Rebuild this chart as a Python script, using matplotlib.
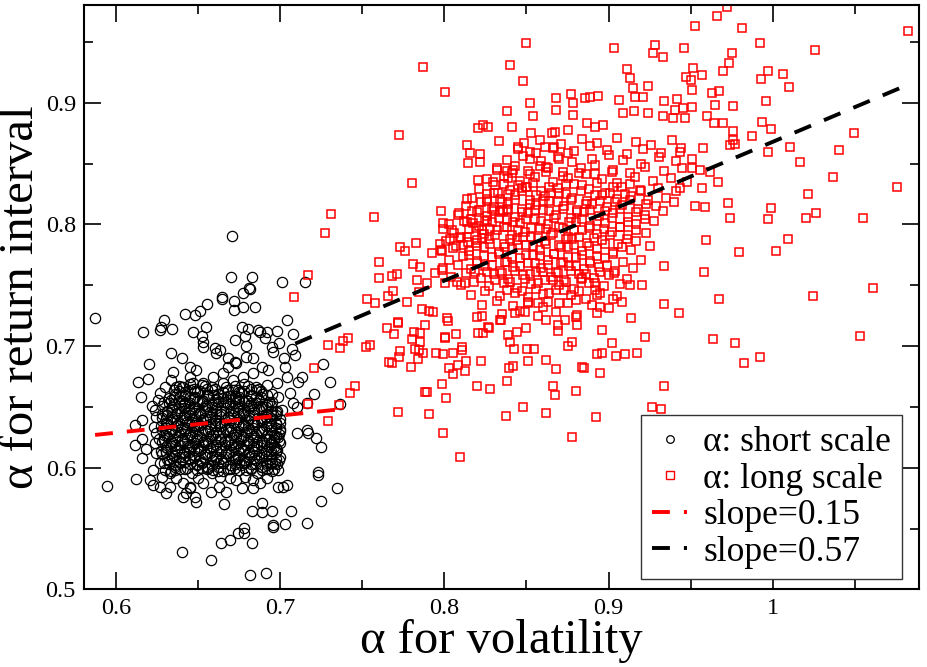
import matplotlib
matplotlib.use("Agg")
import matplotlib.pyplot as plt
from matplotlib.lines import Line2D
from matplotlib.ticker import MultipleLocator, FuncFormatter

plt.rcParams['font.family'] = ['Liberation Serif', 'DejaVu Serif']

# alpha short scale (black circles): scattered points
short_x = [0.6706, 0.5868, 0.6698, 0.6824, 0.7011, 0.7149, 0.6814, 0.6810, 0.6773, 0.6645,
           0.6641, 0.6714, 0.6718, 0.6555, 0.6773, 0.6844, 0.6509, 0.6478, 0.6421, 0.6291,
           0.6271, 0.6265, 0.6336, 0.6163, 0.6545, 0.6464, 0.6763, 0.6803, 0.6783, 0.6787,
           0.6722, 0.6864, 0.6915, 0.6980, 0.7037, 0.7078, 0.6519, 0.6529, 0.6529, 0.6332,
           0.6198, 0.6133, 0.6194, 0.6149, 0.6214, 0.6112, 0.6159, 0.6112, 0.6159, 0.6179,
           0.6153, 0.6118, 0.5940, 0.6204, 0.6220, 0.6265, 0.6275, 0.6224, 0.6301, 0.6326,
           0.6407, 0.6427, 0.6478, 0.6484, 0.6448, 0.6401, 0.6576, 0.6657, 0.6574, 0.6627,
           0.6671, 0.6763, 0.6834, 0.6637, 0.6692, 0.6742, 0.6779, 0.6779, 0.6824, 0.6814,
           0.6911, 0.6824, 0.6885, 0.6885, 0.6946, 0.6952, 0.6956, 0.7025, 0.7064, 0.7159,
           0.7247, 0.7342, 0.7230, 0.7230, 0.6986, 0.7017, 0.7037, 0.6986, 0.6966, 0.6996,
           0.7098, 0.7163, 0.7169, 0.7216, 0.7245, 0.7362, 0.7305, 0.7261, 0.7206, 0.7163,
           0.7129, 0.7108, 0.7088, 0.7068, 0.7021, 0.7027, 0.7037, 0.7057, 0.7078, 0.7098,
           0.6992, 0.6946, 0.6956, 0.6905, 0.6875, 0.6834, 0.6793, 0.6681, 0.6722, 0.6732,
           0.6681, 0.6610, 0.6600, 0.6631, 0.6448, 0.6448, 0.6488, 0.6397, 0.6346, 0.6330,
           0.6295, 0.6265, 0.6255, 0.6234, 0.6244, 0.6228, 0.6244, 0.6234, 0.6244, 0.6265,
           0.6295, 0.6326, 0.6366, 0.6407, 0.6448, 0.6499, 0.6529, 0.6580, 0.6631, 0.6692,
           0.6732, 0.6783, 0.6834, 0.6875, 0.6915, 0.6936, 0.6976, 0.6986, 0.6996, 0.7007,
           0.6986, 0.6976, 0.6925, 0.6885, 0.6834, 0.6773, 0.6712, 0.6651, 0.6590, 0.6529,
           0.6468, 0.6407, 0.6366]
short_y = [0.7905, 0.7234, 0.7571, 0.7571, 0.7529, 0.7529, 0.7466, 0.7475, 0.7439, 0.7406,
           0.7384, 0.7373, 0.7297, 0.7346, 0.7319, 0.7319, 0.7291, 0.7253, 0.7264, 0.7214,
           0.7160, 0.7132, 0.7138, 0.7119, 0.7154, 0.7119, 0.7160, 0.7143, 0.7083, 0.7001,
           0.7050, 0.7132, 0.7119, 0.7124, 0.7214, 0.7100, 0.7083, 0.7036, 0.6995, 0.6946,
           0.6850, 0.6708, 0.6727, 0.6579, 0.6511, 0.6352, 0.6393, 0.6187, 0.6234, 0.6152,
           0.6078, 0.5905, 0.5853, 0.5900, 0.5859, 0.5845, 0.5927, 0.5982, 0.5790, 0.5845,
           0.5763, 0.5790, 0.5763, 0.5722, 0.5831, 0.5305, 0.5242, 0.5703, 0.5798, 0.5845,
           0.5804, 0.5831, 0.5831, 0.5379, 0.5407, 0.5461, 0.5508, 0.5461, 0.5385, 0.5119,
           0.5133, 0.5648, 0.5640, 0.5714, 0.5645, 0.5530, 0.5516, 0.5536, 0.5645, 0.5549,
           0.5730, 0.5837, 0.5968, 0.5941, 0.5845, 0.5845, 0.5859, 0.5982, 0.6037, 0.6091,
           0.6283, 0.6311, 0.6283, 0.6242, 0.6174, 0.6524, 0.6702, 0.6850, 0.6604, 0.6530,
           0.6749, 0.6708, 0.6927, 0.6976, 0.6900, 0.6831, 0.6749, 0.6612, 0.6530, 0.6502,
           0.7023, 0.6995, 0.6954, 0.7064, 0.7119, 0.6900, 0.6913, 0.6900, 0.6872, 0.6858,
           0.6831, 0.6941, 0.6982, 0.6968, 0.6831, 0.6749, 0.6804, 0.6900, 0.6790, 0.6721,
           0.6667, 0.6612, 0.6557, 0.6475, 0.6420, 0.6338, 0.6283, 0.6201, 0.6119, 0.6037,
           0.5982, 0.5954, 0.5913, 0.5872, 0.5845, 0.5913, 0.5872, 0.5954, 0.5927, 0.5913,
           0.5900, 0.5927, 0.5900, 0.5872, 0.5913, 0.6037, 0.6146, 0.6256, 0.6365, 0.6475,
           0.6584, 0.6694, 0.6804, 0.6831, 0.6776, 0.6749, 0.6721, 0.6776, 0.6749, 0.6694,
           0.6694, 0.6667, 0.6667]

# alpha short scale: dense core of the cloud
short_core_x = [0.633, 0.639, 0.646, 0.652, 0.659, 0.665, 0.672, 0.679, 0.686, 0.692,
                0.629, 0.636, 0.642, 0.649, 0.655, 0.662, 0.669, 0.675, 0.682, 0.689, 0.695,
                0.631, 0.638, 0.644, 0.651, 0.658, 0.664, 0.671, 0.678, 0.684, 0.691, 0.697,
                0.627, 0.634, 0.641, 0.647, 0.654, 0.661, 0.667, 0.674, 0.681, 0.687, 0.694,
                0.630, 0.636, 0.643, 0.650, 0.656, 0.663, 0.670, 0.676, 0.683, 0.690, 0.696,
                0.626, 0.633, 0.640, 0.646, 0.653, 0.660, 0.666, 0.673, 0.680, 0.686, 0.693, 0.699,
                0.629, 0.636, 0.642, 0.649, 0.656, 0.662, 0.669, 0.676, 0.682, 0.689, 0.696,
                0.627, 0.634, 0.640, 0.647, 0.654, 0.660, 0.667, 0.674, 0.680, 0.687, 0.694, 0.700,
                0.630, 0.637, 0.643, 0.650, 0.657, 0.663, 0.670, 0.677, 0.683, 0.690, 0.697,
                0.628, 0.634, 0.641, 0.648, 0.654, 0.661, 0.668, 0.674, 0.681, 0.688, 0.694,
                0.631, 0.638, 0.644, 0.651, 0.658, 0.664, 0.671, 0.678, 0.684, 0.691, 0.698,
                0.629, 0.635, 0.642, 0.649, 0.655, 0.662, 0.669, 0.675, 0.682, 0.689, 0.695,
                0.632, 0.639, 0.645, 0.652, 0.659, 0.665, 0.672, 0.679, 0.685, 0.692,
                0.635, 0.642, 0.648, 0.655, 0.662, 0.668, 0.675, 0.682, 0.688, 0.695,
                0.638, 0.645, 0.652, 0.658, 0.665, 0.672, 0.678, 0.685, 0.692]
short_core_y = [0.597, 0.599, 0.596, 0.600, 0.598, 0.597, 0.600, 0.598, 0.596, 0.599,
                0.604, 0.602, 0.605, 0.603, 0.601, 0.604, 0.602, 0.605, 0.603, 0.601, 0.604,
                0.607, 0.609, 0.608, 0.606, 0.610, 0.607, 0.609, 0.606, 0.608, 0.610, 0.607,
                0.614, 0.612, 0.613, 0.615, 0.611, 0.614, 0.612, 0.615, 0.613, 0.611, 0.614,
                0.617, 0.619, 0.618, 0.616, 0.620, 0.617, 0.619, 0.616, 0.618, 0.620, 0.617,
                0.624, 0.622, 0.623, 0.625, 0.621, 0.624, 0.622, 0.625, 0.623, 0.621, 0.624, 0.622,
                0.627, 0.629, 0.628, 0.626, 0.630, 0.627, 0.629, 0.626, 0.628, 0.630, 0.627,
                0.634, 0.632, 0.633, 0.635, 0.631, 0.634, 0.632, 0.635, 0.633, 0.631, 0.634, 0.632,
                0.637, 0.639, 0.638, 0.636, 0.640, 0.637, 0.639, 0.636, 0.638, 0.640, 0.637,
                0.644, 0.642, 0.643, 0.645, 0.641, 0.644, 0.642, 0.645, 0.643, 0.641, 0.644,
                0.647, 0.649, 0.648, 0.646, 0.650, 0.647, 0.649, 0.646, 0.648, 0.650, 0.647,
                0.654, 0.652, 0.653, 0.655, 0.651, 0.654, 0.652, 0.655, 0.653, 0.651, 0.654,
                0.657, 0.659, 0.658, 0.656, 0.660, 0.657, 0.659, 0.656, 0.658, 0.660,
                0.664, 0.662, 0.663, 0.665, 0.661, 0.664, 0.662, 0.665, 0.663, 0.661,
                0.667, 0.669, 0.668, 0.666, 0.670, 0.667, 0.669, 0.666, 0.668]

# alpha short scale: extra points filling the core between the rows above
short_fill_x = [0.636, 0.643, 0.649, 0.656, 0.662, 0.669, 0.676, 0.682, 0.689, 0.696,
                0.632, 0.639, 0.645, 0.652, 0.659, 0.665, 0.672, 0.679, 0.685, 0.692, 0.699,
                0.628, 0.635, 0.641, 0.648, 0.654, 0.661, 0.668, 0.674, 0.681, 0.688, 0.694,
                0.631, 0.637, 0.644, 0.651, 0.657, 0.664, 0.671, 0.677, 0.684, 0.691, 0.697,
                0.628, 0.634, 0.641, 0.648, 0.654, 0.661, 0.668, 0.674, 0.681, 0.688, 0.694, 0.700,
                0.631, 0.637, 0.644, 0.651, 0.657, 0.664, 0.671, 0.677, 0.684, 0.691, 0.697,
                0.628, 0.634, 0.641, 0.648, 0.654, 0.661, 0.668, 0.674, 0.681, 0.688, 0.694, 0.700,
                0.631, 0.637, 0.644, 0.651, 0.657, 0.664, 0.671, 0.677, 0.684, 0.691, 0.697,
                0.628, 0.634, 0.641, 0.648, 0.654, 0.661, 0.668, 0.674, 0.681, 0.688, 0.694, 0.700,
                0.631, 0.637, 0.644, 0.651, 0.657, 0.664, 0.671, 0.677, 0.684, 0.691, 0.697,
                0.628, 0.634, 0.641, 0.648, 0.654, 0.661, 0.668, 0.674, 0.681, 0.688, 0.694,
                0.633, 0.640, 0.647, 0.653, 0.660, 0.667, 0.673, 0.680, 0.687, 0.693,
                0.636, 0.642, 0.649, 0.656, 0.662, 0.669, 0.676, 0.682, 0.689,
                0.640, 0.647, 0.654, 0.660, 0.667, 0.674, 0.680, 0.687]
short_fill_y = [0.601, 0.600, 0.602, 0.600, 0.601, 0.599, 0.602, 0.600, 0.601, 0.599,
                0.606, 0.605, 0.607, 0.605, 0.606, 0.604, 0.607, 0.605, 0.606, 0.604, 0.606,
                0.611, 0.610, 0.612, 0.610, 0.611, 0.609, 0.612, 0.610, 0.611, 0.609, 0.611,
                0.616, 0.615, 0.617, 0.615, 0.616, 0.614, 0.617, 0.615, 0.616, 0.614, 0.616,
                0.621, 0.620, 0.622, 0.620, 0.621, 0.619, 0.622, 0.620, 0.621, 0.619, 0.621, 0.620,
                0.626, 0.625, 0.627, 0.625, 0.626, 0.624, 0.627, 0.625, 0.626, 0.624, 0.626,
                0.631, 0.630, 0.632, 0.630, 0.631, 0.629, 0.632, 0.630, 0.631, 0.629, 0.631, 0.630,
                0.636, 0.635, 0.637, 0.635, 0.636, 0.634, 0.637, 0.635, 0.636, 0.634, 0.636,
                0.641, 0.640, 0.642, 0.640, 0.641, 0.639, 0.642, 0.640, 0.641, 0.639, 0.641, 0.640,
                0.646, 0.645, 0.647, 0.645, 0.646, 0.644, 0.647, 0.645, 0.646, 0.644, 0.646,
                0.651, 0.650, 0.652, 0.650, 0.651, 0.649, 0.652, 0.650, 0.651, 0.649, 0.651,
                0.656, 0.655, 0.657, 0.655, 0.656, 0.654, 0.657, 0.655, 0.656, 0.654,
                0.661, 0.660, 0.662, 0.660, 0.661, 0.659, 0.662, 0.660, 0.661,
                0.666, 0.665, 0.667, 0.665, 0.666, 0.664, 0.667, 0.665]

# alpha short scale: third layer, darkest part of the core
short_fill2_x = [0.636, 0.642, 0.649, 0.655, 0.662, 0.668, 0.675, 0.682, 0.689, 0.695,
                 0.632, 0.639, 0.645, 0.652, 0.658, 0.665, 0.672, 0.678, 0.685, 0.692, 0.698,
                 0.634, 0.641, 0.647, 0.654, 0.661, 0.667, 0.674, 0.681, 0.687, 0.694,
                 0.630, 0.637, 0.644, 0.650, 0.657, 0.664, 0.670, 0.677, 0.684, 0.690, 0.697,
                 0.633, 0.639, 0.646, 0.653, 0.659, 0.666, 0.673, 0.679, 0.686, 0.693,
                 0.629, 0.636, 0.643, 0.649, 0.656, 0.663, 0.669, 0.676, 0.683, 0.689, 0.696,
                 0.632, 0.639, 0.645, 0.652, 0.659, 0.665, 0.672, 0.679, 0.685, 0.692, 0.699,
                 0.630, 0.637, 0.643, 0.650, 0.657, 0.663, 0.670, 0.677, 0.683, 0.690, 0.697,
                 0.633, 0.640, 0.646, 0.653, 0.660, 0.666, 0.673, 0.680, 0.686, 0.693,
                 0.631, 0.637, 0.644, 0.651, 0.657, 0.664, 0.671, 0.677, 0.684, 0.691, 0.697,
                 0.634, 0.641, 0.647, 0.654, 0.661, 0.667, 0.674, 0.681, 0.687, 0.694,
                 0.632, 0.638, 0.645, 0.652, 0.658, 0.665, 0.672, 0.678, 0.685, 0.692,
                 0.635, 0.642, 0.648, 0.655, 0.662, 0.668, 0.675, 0.682, 0.688,
                 0.638, 0.645, 0.651, 0.658, 0.665, 0.671, 0.678, 0.685]
short_fill2_y = [0.598, 0.599, 0.598, 0.599, 0.597, 0.599, 0.598, 0.599, 0.598, 0.597,
                 0.603, 0.604, 0.603, 0.604, 0.602, 0.604, 0.603, 0.604, 0.603, 0.602, 0.603,
                 0.608, 0.609, 0.608, 0.609, 0.607, 0.609, 0.608, 0.609, 0.608, 0.607,
                 0.613, 0.614, 0.613, 0.614, 0.612, 0.614, 0.613, 0.614, 0.613, 0.612, 0.613,
                 0.618, 0.619, 0.618, 0.619, 0.617, 0.619, 0.618, 0.619, 0.618, 0.617,
                 0.623, 0.624, 0.623, 0.624, 0.622, 0.624, 0.623, 0.624, 0.623, 0.622, 0.623,
                 0.628, 0.629, 0.628, 0.629, 0.627, 0.629, 0.628, 0.629, 0.628, 0.627, 0.628,
                 0.633, 0.634, 0.633, 0.634, 0.632, 0.634, 0.633, 0.634, 0.633, 0.632, 0.633,
                 0.638, 0.639, 0.638, 0.639, 0.637, 0.639, 0.638, 0.639, 0.638, 0.637,
                 0.643, 0.644, 0.643, 0.644, 0.642, 0.644, 0.643, 0.644, 0.643, 0.642, 0.643,
                 0.648, 0.649, 0.648, 0.649, 0.647, 0.649, 0.648, 0.649, 0.648, 0.647,
                 0.653, 0.654, 0.653, 0.654, 0.652, 0.654, 0.653, 0.654, 0.653, 0.652,
                 0.658, 0.659, 0.658, 0.659, 0.657, 0.659, 0.658, 0.659, 0.658,
                 0.663, 0.664, 0.663, 0.664, 0.662, 0.664, 0.663, 0.664]

# alpha long scale (red squares): scattered points
long_x = [0.7271, 0.7169, 0.7082, 0.7529, 0.7576, 0.7600, 0.7600, 0.7291, 0.7362, 0.7383,
          0.7413, 0.7521, 0.7545, 0.7206, 0.7427, 0.7454, 0.7169, 0.7287,
          0.8497, 0.9036, 0.8399, 0.7867, 0.8481, 0.8003, 0.8680, 0.8771, 0.8857, 0.8887,
          0.8938, 0.8521, 0.8680, 0.8782, 0.8786, 0.8379, 0.8542, 0.7725, 0.8202, 0.8233,
          0.8267, 0.8410, 0.8528, 0.8654, 0.8674, 0.8755, 0.8867, 0.8918, 0.8969, 0.8135,
          0.8332, 0.8450, 0.8485, 0.8613, 0.8670, 0.8156, 0.8217, 0.8521, 0.8700, 0.8755,
          0.8145, 0.8217, 0.8318, 0.8379, 0.8420, 0.8521, 0.8582, 0.8633, 0.7800, 0.8206,
          0.8298, 0.8389, 0.8471, 0.8501, 0.8328, 0.8257, 0.8135, 0.7306, 0.7572, 0.7979,
          0.8089, 0.8196, 0.8288, 0.8359, 0.8389, 0.7993, 0.7993, 0.8044, 0.8135, 0.8176,
          0.8257, 0.8379, 0.7678, 0.7708, 0.7729, 0.7759, 0.7826, 0.7658, 0.7688, 0.7810,
          0.7851, 0.7922, 0.7973, 0.7983, 0.8034, 0.8054, 0.8095, 0.8145, 0.8196, 0.8227,
          0.7830, 0.7891, 0.7942, 0.7983, 0.8003, 0.8074, 0.8125, 0.8186,
          0.9720, 0.9663, 0.9527, 0.9812, 1.0828, 0.9283, 0.9269, 0.9330, 0.9460, 0.9921,
          1.0261, 0.9751, 0.9737, 0.9700, 0.9111, 0.9131, 0.9147, 0.9243, 0.9212, 0.9161,
          0.9066, 0.9517, 0.9472, 0.9501, 0.9568, 0.9507, 0.9930, 0.9974, 1.0066, 1.0100,
          0.9629, 0.9674, 0.9649, 0.9757, 0.9958, 0.9340, 0.9415, 0.9456, 0.9507, 0.9405,
          0.9090, 0.9157, 0.9243, 0.9334, 0.9395, 0.9466, 0.9598, 0.9645, 0.9700, 0.9934,
          0.9989, 0.9761, 1.0497, 0.9877, 0.9761, 0.9771, 0.9741, 1.0107, 0.9970, 1.0405,
          1.0168, 1.0371, 1.0761, 1.0214, 0.9991, 1.0263, 1.0202, 1.0554, 0.9970, 0.9741,
          0.9730, 1.0096, 1.0019, 0.9798, 0.9592, 0.9582, 0.9676, 0.9430, 0.9338, 0.9340,
          1.0245, 1.0615, 1.0533, 0.9924, 0.9826, 0.9771, 0.9635, 0.9340, 0.9263, 0.9318,
          0.9222, 0.9172, 0.9100, 0.9046, 0.9019, 0.9080, 0.9025, 0.9137, 0.9033, 0.8958,
          0.8948, 0.8958, 0.9527, 0.9588, 0.9507, 0.9558, 0.9436, 0.9578, 0.9436, 0.9568,
          0.9670, 0.9619,
          0.7845, 0.7769, 0.7715, 0.7715, 0.7652, 0.7694, 0.7881, 0.7865, 0.7906, 0.7816,
          0.7851, 0.7800, 0.7851, 0.7847, 0.7820, 0.7729, 0.7725, 0.7871, 0.7841, 0.7664,
          0.7682, 0.7794, 0.8003, 0.8003, 0.8070, 0.8013, 0.8024, 0.7932, 0.7948, 0.7993,
          0.8054, 0.8105, 0.8105, 0.8085, 0.8028, 0.8050, 0.8125, 0.8131, 0.8221, 0.7987,
          0.7881, 0.7891, 0.8007, 0.8200, 0.8278, 0.8379, 0.7359, 0.7719, 0.7908, 0.7989,
          0.8095, 0.8202, 0.8237, 0.8274, 0.8345, 0.8400, 0.8389, 0.8444, 0.8497, 0.8426,
          0.8501, 0.8546, 0.8393, 0.8416, 0.8507, 0.8619, 0.8680, 0.8375, 0.8481, 0.8619,
          0.8664, 0.8674, 0.8800, 0.8780, 0.8841, 0.8851, 0.8928, 0.8806, 0.8755, 0.8776,
          0.8922, 0.8948, 0.8735, 0.8806, 0.8690, 0.8690, 0.8619, 0.9131, 0.9202, 0.8918,
          0.8928, 0.8837, 0.8755, 0.8491, 0.8430, 0.8339, 0.8268, 0.8196, 0.8227, 0.8511,
          0.8572, 0.8633]
long_y = [0.7927, 0.7584, 0.7401, 0.7387, 0.7351, 0.7694, 0.7557, 0.7009, 0.6982, 0.7042,
          0.7069, 0.6990, 0.7009, 0.6823, 0.6612, 0.6672, 0.6524, 0.6385,
          0.9493, 0.9447, 0.9310, 0.9296, 0.9181, 0.9085, 0.9042, 0.9069, 0.9042, 0.9050,
          0.9055, 0.9001, 0.8940, 0.9001, 0.8899, 0.8932, 0.8894, 0.8735, 0.8795, 0.8817,
          0.8803, 0.8803, 0.8754, 0.8748, 0.8762, 0.8776, 0.8831, 0.8803, 0.8817, 0.8653,
          0.8685, 0.8639, 0.8672, 0.8639, 0.8633, 0.8584, 0.8579, 0.8598, 0.8535, 0.8584,
          0.8507, 0.8510, 0.8466, 0.8442, 0.8447, 0.8535, 0.8483, 0.8461, 0.8343, 0.8365,
          0.8351, 0.8379, 0.8302, 0.8310, 0.8256, 0.8206, 0.8206, 0.8086, 0.8064, 0.8113,
          0.8091, 0.8105, 0.8124, 0.8113, 0.8118, 0.8014, 0.7960, 0.7954, 0.8023, 0.8009,
          0.8036, 0.8036, 0.7576, 0.7593, 0.7817, 0.7784, 0.7850, 0.7412, 0.7456, 0.7675,
          0.7653, 0.7762, 0.7836, 0.7784, 0.7877, 0.7803, 0.7894, 0.7858, 0.7872, 0.7954,
          0.7543, 0.7521, 0.7598, 0.7626, 0.7516, 0.7530, 0.7516, 0.7612,
          0.9784, 0.9713, 0.9630, 0.9611, 0.9589, 0.9474, 0.9406, 0.9378, 0.9452, 0.9493,
          0.9433, 0.9406, 0.9324, 0.9261, 0.9277, 0.9206, 0.9118, 0.9137, 0.9050, 0.9050,
          0.9022, 0.9288, 0.9209, 0.9187, 0.9228, 0.9104, 0.9195, 0.9263, 0.9236, 0.9132,
          0.9077, 0.9099, 0.8981, 0.8973, 0.9014, 0.9014, 0.9031, 0.8954, 0.8962, 0.8940,
          0.8913, 0.8932, 0.8913, 0.8891, 0.8872, 0.8877, 0.8891, 0.8836, 0.8831, 0.8844,
          0.8781, 0.8768, 0.8748, 0.8727, 0.8694, 0.8661, 0.8653, 0.8636, 0.8598, 0.8612,
          0.8510, 0.8387, 0.8310, 0.8250, 0.8138, 0.8097, 0.8050, 0.8055, 0.8047, 0.8050,
          0.8179, 0.7883, 0.7784, 0.7771, 0.7872, 0.7612, 0.7387, 0.7269, 0.7346, 0.7658,
          0.7415, 0.7480, 0.7086, 0.6908, 0.6864, 0.7028, 0.7058, 0.6675, 0.6497, 0.6481,
          0.7077, 0.6941, 0.6933, 0.6922, 0.7028, 0.7365, 0.7385, 0.7228, 0.7598, 0.7132,
          0.6776, 0.6941, 0.8151, 0.8140, 0.8461, 0.8447, 0.8598, 0.8625, 0.8296, 0.8296,
          0.8351, 0.8433,
          0.7447, 0.7365, 0.7200, 0.7187, 0.7151, 0.7096, 0.7173, 0.7305, 0.7291, 0.7118,
          0.7105, 0.7058, 0.7036, 0.6968, 0.6973, 0.6962, 0.6913, 0.6940, 0.6894, 0.6872,
          0.6858, 0.6831, 0.7077, 0.7064, 0.7099, 0.7228, 0.7209, 0.7283, 0.6946, 0.6935,
          0.6940, 0.6990, 0.6968, 0.6844, 0.6817, 0.6768, 0.6795, 0.6877, 0.6880, 0.6686,
          0.6620, 0.6620, 0.6570, 0.6675, 0.6647, 0.6713, 0.6516, 0.6455, 0.6442, 0.6283,
          0.6086, 0.7105, 0.7105, 0.7151, 0.7214, 0.7036, 0.7091, 0.7118, 0.7146, 0.6973,
          0.6976, 0.6976, 0.6822, 0.6836, 0.6880, 0.6886, 0.6812, 0.6428, 0.6497, 0.6453,
          0.6675, 0.6598, 0.6634, 0.6256, 0.6831, 0.6822, 0.6932, 0.7173, 0.7001, 0.7036,
          0.6420, 0.7324, 0.7214, 0.7255, 0.7124, 0.7173, 0.7214, 0.7502, 0.7502, 0.7461,
          0.7420, 0.7557, 0.7351, 0.7283, 0.7269, 0.7214, 0.7159, 0.7242, 0.7250, 0.7351,
          0.7351, 0.7365]

# alpha long scale: dense core of the cloud
long_core_x = [0.858, 0.871, 0.884, 0.893, 0.905, 0.917, 0.926, 0.939,
               0.845, 0.856, 0.866, 0.879, 0.889, 0.899, 0.911, 0.921, 0.932, 0.944,
               0.838, 0.848, 0.859, 0.869, 0.878, 0.890, 0.900, 0.909, 0.920, 0.931, 0.941, 0.951,
               0.832, 0.843, 0.851, 0.862, 0.872, 0.883, 0.892, 0.903, 0.913, 0.922, 0.934, 0.945,
               0.826, 0.836, 0.846, 0.855, 0.866, 0.875, 0.886, 0.896, 0.905, 0.916, 0.927, 0.938, 0.948,
               0.821, 0.831, 0.840, 0.850, 0.859, 0.869, 0.879, 0.888, 0.898, 0.908, 0.919, 0.930, 0.941,
               0.817, 0.826, 0.834, 0.843, 0.852, 0.861, 0.870, 0.878, 0.887, 0.896, 0.905, 0.914, 0.924, 0.935,
               0.813, 0.822, 0.830, 0.839, 0.847, 0.856, 0.864, 0.873, 0.881, 0.890, 0.899, 0.908, 0.918, 0.929, 0.940,
               0.808, 0.817, 0.826, 0.834, 0.843, 0.851, 0.860, 0.868, 0.877, 0.885, 0.894, 0.903, 0.912, 0.922, 0.933,
               0.803, 0.812, 0.821, 0.829, 0.838, 0.846, 0.855, 0.863, 0.872, 0.880, 0.889, 0.898, 0.907, 0.917, 0.928,
               0.806, 0.815, 0.824, 0.832, 0.841, 0.849, 0.858, 0.866, 0.875, 0.884, 0.893, 0.902, 0.912, 0.923,
               0.801, 0.810, 0.819, 0.827, 0.836, 0.844, 0.853, 0.861, 0.870, 0.878, 0.887, 0.896, 0.906, 0.917,
               0.798, 0.807, 0.815, 0.824, 0.833, 0.841, 0.850, 0.858, 0.867, 0.875, 0.884, 0.893, 0.903, 0.914, 0.925,
               0.803, 0.811, 0.820, 0.829, 0.837, 0.846, 0.854, 0.863, 0.871, 0.880, 0.889, 0.898, 0.909, 0.920,
               0.799, 0.808, 0.816, 0.825, 0.834, 0.842, 0.851, 0.859, 0.868, 0.876, 0.885, 0.894, 0.904, 0.915,
               0.804, 0.813, 0.822, 0.830, 0.839, 0.848, 0.856, 0.865, 0.873, 0.882, 0.891, 0.900, 0.911,
               0.810, 0.818, 0.827, 0.836, 0.844, 0.853, 0.861, 0.870, 0.879, 0.888, 0.897, 0.907,
               0.816, 0.825, 0.834, 0.843, 0.851, 0.860, 0.868, 0.877, 0.886, 0.895, 0.905,
               0.823, 0.832, 0.842, 0.851, 0.860, 0.870, 0.880, 0.890, 0.900,
               0.835, 0.846, 0.857, 0.868, 0.880, 0.893]
long_core_y = [0.869, 0.866, 0.870, 0.867, 0.871, 0.868, 0.865, 0.869,
               0.862, 0.859, 0.863, 0.860, 0.864, 0.861, 0.858, 0.862, 0.859, 0.863,
               0.853, 0.856, 0.852, 0.855, 0.851, 0.854, 0.857, 0.853, 0.850, 0.855, 0.852, 0.854,
               0.845, 0.848, 0.844, 0.847, 0.843, 0.846, 0.849, 0.845, 0.842, 0.847, 0.844, 0.846,
               0.837, 0.840, 0.836, 0.839, 0.835, 0.838, 0.841, 0.837, 0.834, 0.839, 0.836, 0.838, 0.835,
               0.829, 0.832, 0.828, 0.831, 0.827, 0.830, 0.833, 0.829, 0.826, 0.831, 0.828, 0.830, 0.827,
               0.822, 0.825, 0.821, 0.824, 0.820, 0.823, 0.826, 0.822, 0.819, 0.824, 0.821, 0.823, 0.820, 0.822,
               0.815, 0.818, 0.814, 0.817, 0.813, 0.816, 0.819, 0.815, 0.812, 0.817, 0.814, 0.816, 0.813, 0.815, 0.818,
               0.808, 0.811, 0.807, 0.810, 0.806, 0.809, 0.812, 0.808, 0.805, 0.810, 0.807, 0.809, 0.806, 0.808, 0.811,
               0.800, 0.803, 0.799, 0.802, 0.798, 0.801, 0.804, 0.800, 0.797, 0.802, 0.799, 0.801, 0.798, 0.800, 0.803,
               0.793, 0.796, 0.792, 0.795, 0.791, 0.794, 0.797, 0.793, 0.790, 0.795, 0.792, 0.794, 0.791, 0.793,
               0.786, 0.789, 0.785, 0.788, 0.784, 0.787, 0.790, 0.786, 0.783, 0.788, 0.785, 0.787, 0.784, 0.786,
               0.779, 0.782, 0.778, 0.781, 0.777, 0.780, 0.783, 0.779, 0.776, 0.781, 0.778, 0.780, 0.777, 0.779, 0.782,
               0.771, 0.774, 0.770, 0.773, 0.769, 0.772, 0.775, 0.771, 0.768, 0.773, 0.770, 0.772, 0.769, 0.771,
               0.764, 0.767, 0.763, 0.766, 0.762, 0.765, 0.768, 0.764, 0.761, 0.766, 0.763, 0.765, 0.762, 0.764,
               0.757, 0.760, 0.756, 0.759, 0.755, 0.758, 0.761, 0.757, 0.754, 0.759, 0.756, 0.758, 0.755,
               0.750, 0.753, 0.749, 0.752, 0.748, 0.751, 0.754, 0.750, 0.747, 0.752, 0.749, 0.751,
               0.742, 0.745, 0.741, 0.744, 0.740, 0.743, 0.746, 0.742, 0.739, 0.744, 0.741,
               0.734, 0.737, 0.733, 0.736, 0.732, 0.735, 0.738, 0.734, 0.731,
               0.726, 0.729, 0.725, 0.728, 0.724, 0.727]

# alpha long scale: extra points in the densest part of the cloud
long_fill_x = [0.841, 0.852, 0.862, 0.872, 0.882, 0.892, 0.902,
               0.836, 0.845, 0.854, 0.864, 0.874, 0.884, 0.893, 0.903, 0.913,
               0.830, 0.839, 0.847, 0.856, 0.865, 0.874, 0.883, 0.892, 0.901, 0.910, 0.920,
               0.826, 0.835, 0.843, 0.852, 0.860, 0.869, 0.877, 0.886, 0.895, 0.904, 0.913, 0.923,
               0.821, 0.830, 0.838, 0.847, 0.855, 0.864, 0.872, 0.881, 0.889, 0.898, 0.907, 0.917,
               0.816, 0.825, 0.833, 0.842, 0.850, 0.859, 0.867, 0.876, 0.884, 0.893, 0.902, 0.912, 0.922,
               0.819, 0.828, 0.836, 0.845, 0.853, 0.862, 0.870, 0.879, 0.888, 0.897, 0.907, 0.917,
               0.814, 0.823, 0.831, 0.840, 0.848, 0.857, 0.865, 0.874, 0.882, 0.891, 0.901, 0.911,
               0.811, 0.820, 0.828, 0.837, 0.845, 0.854, 0.862, 0.871, 0.879, 0.888, 0.898, 0.908,
               0.815, 0.824, 0.833, 0.841, 0.850, 0.858, 0.867, 0.875, 0.884, 0.893, 0.903,
               0.820, 0.829, 0.838, 0.846, 0.855, 0.863, 0.872, 0.880, 0.889, 0.899,
               0.826, 0.835, 0.843, 0.852, 0.860, 0.869, 0.877, 0.886, 0.895,
               0.831, 0.840, 0.849, 0.857, 0.866, 0.874, 0.883, 0.892,
               0.838, 0.847, 0.856, 0.864, 0.873, 0.882]
long_fill_y = [0.842, 0.841, 0.843, 0.840, 0.842, 0.841, 0.843,
               0.833, 0.832, 0.834, 0.831, 0.833, 0.832, 0.834, 0.831, 0.833,
               0.826, 0.825, 0.827, 0.824, 0.826, 0.825, 0.827, 0.824, 0.826, 0.825, 0.827,
               0.819, 0.818, 0.820, 0.817, 0.819, 0.818, 0.820, 0.817, 0.819, 0.818, 0.820, 0.817,
               0.812, 0.811, 0.813, 0.810, 0.812, 0.811, 0.813, 0.810, 0.812, 0.811, 0.813, 0.810,
               0.804, 0.803, 0.805, 0.802, 0.804, 0.803, 0.805, 0.802, 0.804, 0.803, 0.805, 0.802, 0.804,
               0.797, 0.796, 0.798, 0.795, 0.797, 0.796, 0.798, 0.795, 0.797, 0.796, 0.798, 0.795,
               0.790, 0.789, 0.791, 0.788, 0.790, 0.789, 0.791, 0.788, 0.790, 0.789, 0.791, 0.788,
               0.783, 0.782, 0.784, 0.781, 0.783, 0.782, 0.784, 0.781, 0.783, 0.782, 0.784, 0.781,
               0.775, 0.774, 0.776, 0.773, 0.775, 0.774, 0.776, 0.773, 0.775, 0.774, 0.776,
               0.768, 0.767, 0.769, 0.766, 0.768, 0.767, 0.769, 0.766, 0.768, 0.767,
               0.761, 0.760, 0.762, 0.759, 0.761, 0.760, 0.762, 0.759, 0.761,
               0.754, 0.753, 0.755, 0.752, 0.754, 0.753, 0.755, 0.752,
               0.746, 0.745, 0.747, 0.744, 0.746, 0.745]

# fitted lines (end points)
fit_short_x = [0.587, 0.736]
fit_short_y = [0.627, 0.648]
fit_long_x = [0.709, 1.083]
fit_long_y = [0.702, 0.915]

fig = plt.figure(figsize=(9.27, 6.67), dpi=100)
ax = fig.add_axes([0.0909, 0.1162, 0.9005, 0.8768])

circ = dict(ls='none', marker='o', ms=7.4, mfc='none', mec='black', mew=0.9)
sq = dict(ls='none', marker='s', ms=6.4, mfc='none', mec='#ff0000', mew=1.1)
ax.plot(short_x, short_y, **circ)
ax.plot(short_core_x, short_core_y, **circ)
ax.plot(short_fill_x, short_fill_y, **circ)
ax.plot(short_fill2_x, short_fill2_y, **circ)
ax.plot(long_x, long_y, **sq)
ax.plot(long_core_x, long_core_y, **sq)
ax.plot(long_fill_x, long_fill_y, **sq)
ax.plot(fit_short_x, fit_short_y, color='#ff0000', lw=2.8, dashes=(4.6, 3.6))
ax.plot(fit_long_x, fit_long_y, color='black', lw=2.8, dashes=(4.6, 3.6))

ax.set_xlim(0.5804, 1.0893)
ax.set_ylim(0.5, 0.9805)
ax.xaxis.set_major_locator(MultipleLocator(0.1))
ax.xaxis.set_minor_locator(MultipleLocator(0.05))
ax.yaxis.set_major_locator(MultipleLocator(0.1))
ax.yaxis.set_minor_locator(MultipleLocator(0.05))
ax.xaxis.set_major_formatter(FuncFormatter(lambda v, p: '%g' % round(v, 3)))
ax.yaxis.set_major_formatter(FuncFormatter(lambda v, p: '%g' % round(v, 3)))
ax.tick_params(which='both', direction='in', top=True, right=True, width=1.2, labelsize=17.5)
ax.tick_params(which='major', length=12, pad=6)
ax.tick_params(which='minor', length=6.3)
for s in ax.spines.values():
    s.set_linewidth(1.5)

ax.set_xlabel('α for volatility', fontsize=35, labelpad=0)
ax.set_ylabel('α for return interval', fontsize=35, labelpad=2)

handles = [
    Line2D([], [], ls='none', marker='o', ms=5.5, mfc='none', mec='black', mew=0.9),
    Line2D([], [], ls='none', marker='s', ms=5.5, mfc='none', mec='#ff0000', mew=1.0),
    Line2D([], [], color='#ff0000', lw=2.8, dashes=(4.6, 3.6)),
    Line2D([], [], color='black', lw=2.8, dashes=(4.6, 3.6)),
]
labels = ['α: short scale', 'α: long scale', 'slope=0.15', 'slope=0.57']
leg = ax.legend(handles, labels, loc='lower right', bbox_to_anchor=(0.9793, 0.0174),
                borderaxespad=0, fontsize=25.5, handlelength=1.0, handletextpad=0.45,
                labelspacing=0.1, borderpad=0.3, fancybox=False, framealpha=1)
leg.get_frame().set_edgecolor('#333333')
leg.get_frame().set_linewidth(1.0)

fig.savefig('out.png', dpi=100)
